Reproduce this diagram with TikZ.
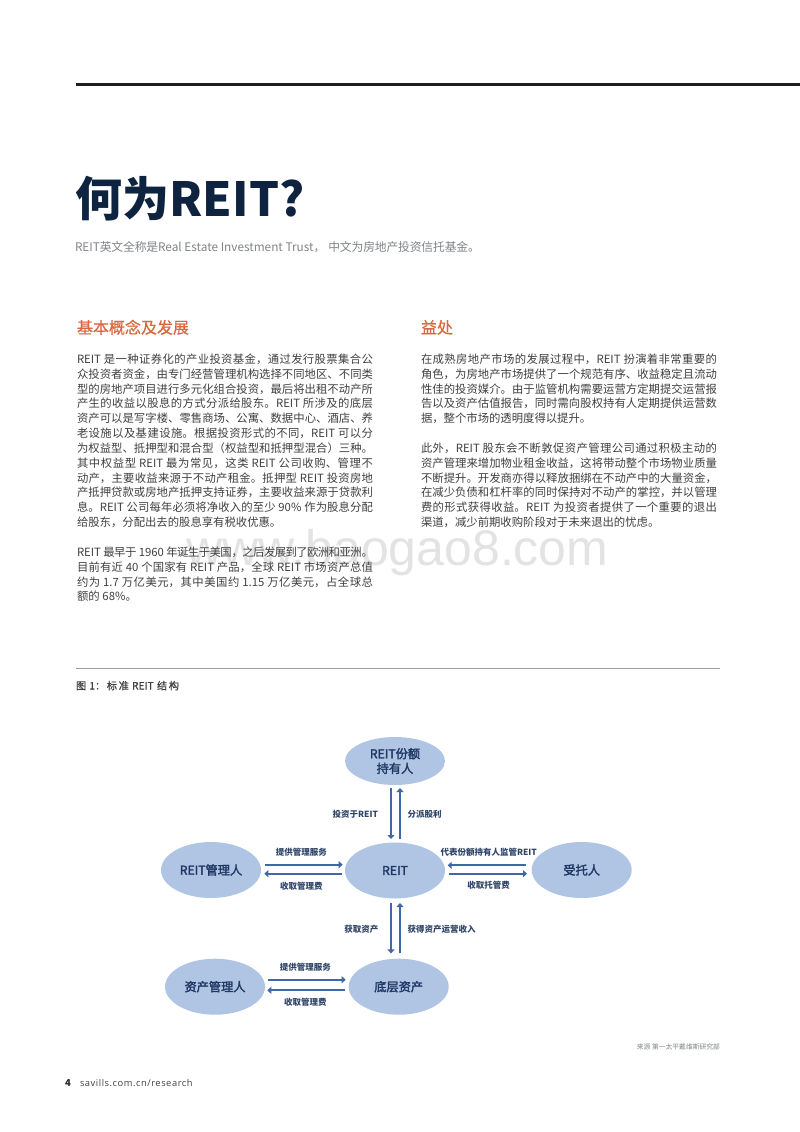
\documentclass[tikz,border=0pt]{standalone}
\usepackage{fontspec}
\usetikzlibrary{arrows.meta,shapes.geometric}
\setmainfont{Noto Sans CJK SC}
\newfontfamily\titlelat[LetterSpace=0.8]{Noto Sans CJK SC}
\newfontfamily\medf[FakeBold=0.5]{Noto Sans CJK SC}
\newfontfamily\semif[FakeBold=2.2]{Noto Sans CJK SC}
\newfontfamily\wmfont{Liberation Sans}
\newfontfamily\footfont[LetterSpace=6]{Open Sans}
\XeTeXlinebreaklocale "zh"
\XeTeXlinebreakskip=0pt plus 3pt minus 0.6pt
\definecolor{navy}{HTML}{0E2340}
\definecolor{orangeh}{HTML}{D9673F}
\definecolor{bodyc}{HTML}{404040}
\definecolor{subc}{HTML}{808488}
\definecolor{ell}{HTML}{B0C4E4}
\definecolor{arrc}{HTML}{3F68A8}
\definecolor{elltxt}{HTML}{1F3864}
\definecolor{lbl}{HTML}{2F4468}
\newcommand\fsz[1]{\fontsize{#1}{#1}\selectfont}
\newcommand\jl[1]{{\parfillskip=0pt\noindent #1\par}}
\newcommand\lastl[1]{{\parfillskip=0pt plus 1fil\noindent #1\par}}
\newcommand\wcol[2]{\vtop{\hsize=#1\baselineskip=14.85pt\lineskiplimit=-20pt\tolerance=9999\spaceskip=2.8pt plus 0.8pt minus 0.4pt #2}}
\tikzset{
  x=1pt,y=-1pt,
  every node/.style={inner sep=0pt,outer sep=0pt},
  heading/.style={anchor=base west,text=orangeh,font=\medf\fsz{16}},
  bodytxt/.style={anchor=base west,text=bodyc,font=\fsz{11.35}},
  oval/.style={ellipse,fill=ell,minimum width=100pt,minimum height=56pt,text=elltxt,font=\semif\fsz{12.2},align=center},
  arr/.style={draw=arrc,line width=1.8pt,-{Triangle[width=7pt,length=4pt]}},
  lab/.style={text=lbl,font=\fsz{8.5}\bfseries},
}
\begin{document}
\begin{tikzpicture}
\useasboundingbox (0,0) rectangle (800,1132);
\fill[white] (0,0) rectangle (800,1132);
\node[anchor=base west,text=black!11,font=\wmfont\fsz{50}] (wm) at (186,565) {www.baogao8.com};
\coordinate (ruleA) at (76,84);\coordinate (ruleB) at (800,84);
\draw[line width=3pt,color=black!88] (ruleA) -- (ruleB);
\node[anchor=base west,text=navy,font=\fsz{47}\bfseries] (title) at (75,216) {何为{\titlelat REIT?}};
\node[anchor=base west,text=subc,font=\fsz{11.8}] (sub) at (75,251) {\wcol{405pt}{\jl{REIT英文全称是Real Estate Investment Trust，\hspace{3pt}中文为房地产投资信托基金。}}};
\node[heading] (h1) at (77,333.5) {基本概念及发展};
\node[heading] (h2) at (421,333.5) {益处};
\node[bodytxt] (b1) at (77,363.3) {\wcol{296pt}{%
\jl{REIT 是一种证券化的产业投资基金，通过发行股票集合公}
\jl{众投资者资金，由专门经营管理机构选择不同地区、不同类}
\jl{型的房地产项目进行多元化组合投资，最后将出租不动产所}
\jl{产生的收益以股息的方式分派给股东。REIT 所涉及的底层}
\jl{资产可以是写字楼、零售商场、公寓、数据中心、酒店、养}
\jl{老设施以及基建设施。根据投资形式的不同，REIT 可以分}
\jl{为权益型、抵押型和混合型（权益型和抵押型混合）三种。}
\jl{其中权益型 REIT 最为常见，这类 REIT 公司收购、管理不}
\jl{动产，主要收益来源于不动产租金。抵押型 REIT 投资房地}
\jl{产抵押贷款或房地产抵押支持证券，主要收益来源于贷款利}
\jl{息。REIT 公司每年必须将净收入的至少 90\% 作为股息分配}
\lastl{给股东，分配出去的股息享有税收优惠。}
\vskip14.85pt
\jl{REIT 最早于 1960 年诞生于美国，之后发展到了欧洲和亚洲。}
\jl{目前有近 40 个国家有 REIT 产品，全球 REIT 市场资产总值}
\jl{约为 1.7 万亿美元，其中美国约 1.15 万亿美元，占全球总}
\lastl{额的 68\%。}
}};
\node[bodytxt] (b2) at (421,363.3) {\wcol{296pt}{%
\jl{在成熟房地产市场的发展过程中，REIT 扮演着非常重要的}
\jl{角色，为房地产市场提供了一个规范有序、收益稳定且流动}
\jl{性佳的投资媒介。由于监管机构需要运营方定期提交运营报}
\jl{告以及资产估值报告，同时需向股权持有人定期提供运营数}
\lastl{据，整个市场的透明度得以提升。}
\vskip14.85pt
\jl{此外，REIT 股东会不断敦促资产管理公司通过积极主动的}
\jl{资产管理来增加物业租金收益，这将带动整个市场物业质量}
\jl{不断提升。开发商亦得以释放捆绑在不动产中的大量资金，}
\jl{在减少负债和杠杆率的同时保持对不动产的掌控，并以管理}
\jl{费的形式获得收益。REIT 为投资者提供了一个重要的退出}
\lastl{渠道，减少前期收购阶段对于未来退出的忧虑。}
}};
\coordinate (sepA) at (76,668.5);\coordinate (sepB) at (720,668.5);
\draw[line width=0.7pt,color=black!38] (sepA) -- (sepB);
\node[anchor=base west,text=bodyc,font=\medf\fsz{10.2}] (cap) at (76,689.5) {\wcol{103pt}{\jl{图 1：标准 REIT 结构}}};
% ovals
\node[oval,minimum height=48pt] (holder) at (395,761) {REIT份额\\[2.5pt]持有人};
\node[oval] (reit) at (395,870.5) {REIT};
\node[oval] (mgr) at (211,870) {REIT管理人};
\node[oval] (trustee) at (581.7,870) {受托人};
\node[oval] (amgr) at (215,986.7) {资产管理人};
\node[oval] (asset) at (398.7,986.7) {底层资产};
% arrows
\draw[arr] ([xshift=-4pt,yshift=-3pt]holder.south) -- ([xshift=-4pt,yshift=3.5pt]reit.north);
\draw[arr] ([xshift=5pt,yshift=3.5pt]reit.north) -- ([xshift=5pt,yshift=-3pt]holder.south);
\draw[arr] ([xshift=4pt,yshift=5.3pt]mgr.east) -- ([xshift=-2.3pt,yshift=5.8pt]reit.west);
\draw[arr] ([xshift=-3pt,yshift=-3.2pt]reit.west) -- ([xshift=3.3pt,yshift=-3.7pt]mgr.east);
\draw[arr] ([xshift=-5.7pt,yshift=4.7pt]trustee.west) -- ([xshift=2.7pt,yshift=5.2pt]reit.east);
\draw[arr] ([xshift=4pt,yshift=-3.2pt]reit.east) -- ([xshift=-4.7pt,yshift=-3.7pt]trustee.west);
\draw[arr] ([xshift=-4pt,yshift=-4.5pt]reit.south) -- ([xshift=-7.7pt,yshift=5.3pt]asset.north);
\draw[arr] ([xshift=1.3pt,yshift=5.3pt]asset.north) -- ([xshift=5pt,yshift=-4.5pt]reit.south);
\draw[arr] ([xshift=3pt,yshift=7pt]amgr.east) -- ([xshift=-3pt,yshift=7pt]asset.west);
\draw[arr] ([xshift=-4pt,yshift=-3.6pt]asset.west) -- ([xshift=2.3pt,yshift=-3.6pt]amgr.east);
% labels
\node[lab,anchor=east] (l1) at (378,814) {投资于REIT};
\node[lab] (l2) at (424.7,814) {分派股利};
\node[lab] (l3) at (301.3,852) {提供管理服务};
\node[lab] (l4) at (301.3,886) {收取管理费};
\node[lab] (l5) at (488.7,852) {代表份额持有人监管REIT};
\node[lab] (l6) at (488.7,885.7) {收取托管费};
\node[lab] (l7) at (361.3,929) {获取资产};
\node[lab] (l8) at (441.7,929) {获得资产运营收入};
\node[lab] (l9) at (305.3,967) {提供管理服务};
\node[lab] (l10) at (305.3,1002.3) {收取管理费};
\node[anchor=base east,text=subc,font=\fsz{6.8}] (src) at (720,1049.5) {来源 第一太平戴维斯研究部};
\node[anchor=base west,text=black!85,font=\fsz{9.5}\bfseries] (pg) at (65,1086) {4};
\node[anchor=base west,text=bodyc,font=\footfont\fsz{9.3}] (url) at (80,1086) {savills.com.cn/research};
\end{tikzpicture}
\end{document}
